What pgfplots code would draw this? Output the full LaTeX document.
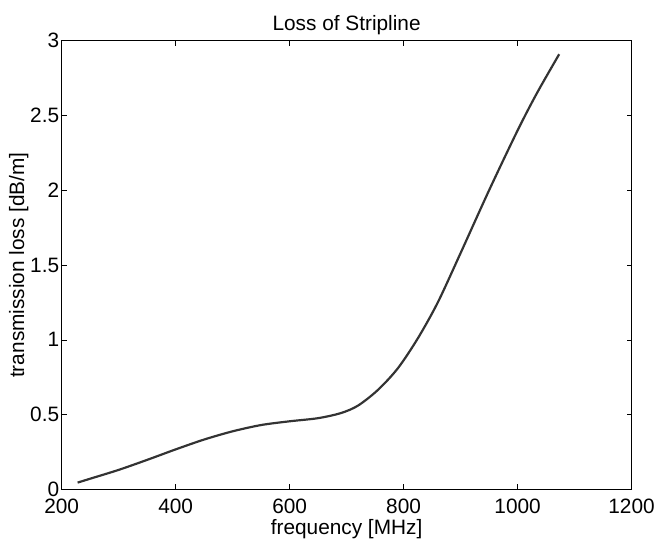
\documentclass[border=0pt]{standalone}
\usepackage{pgfplots}
\pgfplotsset{compat=1.18}
\usepackage{fontspec}
\setmainfont{Liberation Sans}
\begin{document}
\begin{tikzpicture}
\begin{axis}[
  name=ax,
  scale only axis,
  width=573bp, height=451bp,
  xmin=200, xmax=1200, ymin=0, ymax=3,
  xtick={200,400,...,1200},
  ytick={0,0.5,...,3},
  tick align=inside,
  tick pos=both,
  major tick length=5bp,
  axis line style={line width=0.9pt},
  every tick/.style={black,line width=0.6pt},
  /pgf/number format/assume math mode=true,
  /pgf/number format/1000 sep={},
  ticklabel style={font=\fontsize{21}{23}\selectfont},
  label style={font=\fontsize{21}{23}\selectfont},
  title style={font=\fontsize{21}{23}\selectfont, yshift=-4bp},
  title={Loss of Stripline},
  xlabel={frequency [MHz]},
  ylabel={transmission loss [dB/m]},
  xticklabel style={yshift=-6bp},
  yticklabel style={xshift=1bp},
  xlabel style={yshift=1bp},
  ylabel style={yshift=-5bp},
]
\addplot[color={rgb,255:red,51;green,51;blue,51}, line width=2.2pt, smooth, tension=0.5] coordinates {
(228,0.045) (250,0.071) (300,0.13) (350,0.197) (400,0.267) (450,0.333) (500,0.388)
(550,0.43) (600,0.455) (650,0.476) (690,0.51) (720,0.56) (755,0.665) (790,0.81)
(825,1.01) (860,1.25) (900,1.58) (950,2.0) (1000,2.40) (1034,2.65) (1073,2.91)
};
\end{axis}
\path ([shift={(-62bp,-51bp)}]ax.south west) rectangle ([shift={(23bp,41bp)}]ax.north east);
\end{tikzpicture}
\end{document}
